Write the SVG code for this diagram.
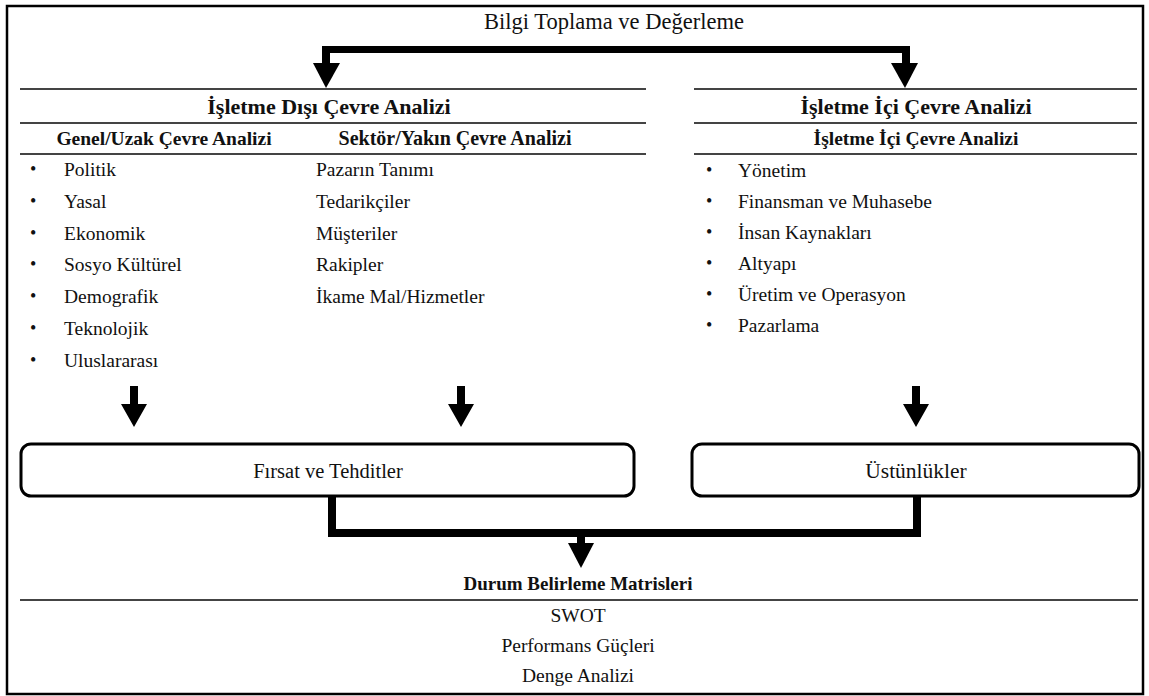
<svg xmlns="http://www.w3.org/2000/svg" width="1149" height="696" viewBox="0 0 1149 696">
<style>
text{font-family:"Liberation Serif","Times New Roman",serif;fill:#111}
.t{font-size:22.5px}
.h{font-size:22px;font-weight:bold;text-anchor:middle}
.s{font-size:19.5px;font-weight:bold;text-anchor:middle}
.i{font-size:19.5px}
.b{font-size:18px}
.c{text-anchor:middle}
.ln{stroke:#444;stroke-width:2}
.box{fill:#fff;stroke:#000;stroke-width:3}
.ar{fill:#000}
</style>
<rect x="7" y="6" width="1136" height="688" fill="#fff" stroke="#000" stroke-width="2.5"/>
<g id="title"><text class="t c" x="614" y="29">Bilgi Toplama ve Değerleme</text></g>
<g id="connectors">
<rect class="ar" x="322" y="46" width="588" height="7"/>
<rect class="ar" x="322" y="46" width="8" height="18"/>
<polygon class="ar" points="313,63 340,63 326,88"/>
<rect class="ar" x="902" y="46" width="8" height="18"/>
<polygon class="ar" points="891,63 918,63 905,88"/>
<polygon class="ar" points="130,386 138,386 138,404 147,404 134,427 121,404 130,404"/>
<polygon class="ar" points="457,386 465,386 465,404 474,404 461,427 448,404 457,404"/>
<polygon class="ar" points="912,386 920,386 920,404 929,404 916,427 903,404 912,404"/>
<rect class="ar" x="328" y="496" width="8" height="41"/>
<rect class="ar" x="913" y="496" width="8" height="41"/>
<rect class="ar" x="328" y="529" width="593" height="8"/>
<rect class="ar" x="577" y="536" width="8" height="8"/>
<polygon class="ar" points="568,543 594,543 581,568"/>
</g>
<g id="dis">
<line class="ln" x1="20" y1="89" x2="646" y2="89"/>
<text class="h" x="329" y="114">İşletme Dışı Çevre Analizi</text>
<line class="ln" x1="20" y1="123" x2="646" y2="123"/>
<text class="s" x="164" y="145">Genel/Uzak Çevre Analizi</text>
<text class="s" x="455" y="145" style="font-size:20px">Sektör/Yakın Çevre Analizi</text>
<line class="ln" x1="20" y1="154" x2="646" y2="154"/>
</g>
<g id="genel">
<text class="b" x="30" y="175">•</text><text class="i" x="64" y="176">Politik</text>
<text class="b" x="30" y="206.8">•</text><text class="i" x="64" y="207.8">Yasal</text>
<text class="b" x="30" y="238.6">•</text><text class="i" x="64" y="239.6">Ekonomik</text>
<text class="b" x="30" y="270.4">•</text><text class="i" x="64" y="271.4">Sosyo Kültürel</text>
<text class="b" x="30" y="302.2">•</text><text class="i" x="64" y="303.2">Demografik</text>
<text class="b" x="30" y="334">•</text><text class="i" x="64" y="335">Teknolojik</text>
<text class="b" x="30" y="365.8">•</text><text class="i" x="64" y="366.8">Uluslararası</text>
</g>
<g id="sektor">
<text class="i" x="316" y="176">Pazarın Tanımı</text>
<text class="i" x="316" y="207.8">Tedarikçiler</text>
<text class="i" x="316" y="239.6">Müşteriler</text>
<text class="i" x="316" y="271.4">Rakipler</text>
<text class="i" x="316" y="303.2">İkame Mal/Hizmetler</text>
</g>
<g id="ici">
<line class="ln" x1="694" y1="89" x2="1137" y2="89"/>
<text class="h" x="916" y="114">İşletme İçi Çevre Analizi</text>
<line class="ln" x1="694" y1="123" x2="1137" y2="123"/>
<text class="s" x="916" y="145">İşletme İçi Çevre Analizi</text>
<line class="ln" x1="694" y1="154" x2="1137" y2="154"/>
<text class="b" x="706" y="176">•</text><text class="i" x="738" y="177">Yönetim</text>
<text class="b" x="706" y="207">•</text><text class="i" x="738" y="208">Finansman ve Muhasebe</text>
<text class="b" x="706" y="238">•</text><text class="i" x="738" y="239">İnsan Kaynakları</text>
<text class="b" x="706" y="269">•</text><text class="i" x="738" y="270">Altyapı</text>
<text class="b" x="706" y="300">•</text><text class="i" x="738" y="301">Üretim ve Operasyon</text>
<text class="b" x="706" y="331">•</text><text class="i" x="738" y="332">Pazarlama</text>
</g>
<g id="firsat">
<rect class="box" x="21" y="444" width="613" height="52" rx="10"/>
<text class="t c" x="328" y="478" style="font-size:20.5px">Fırsat ve Tehditler</text>
</g>
<g id="ustunluk">
<rect class="box" x="692" y="444" width="447" height="52" rx="10"/>
<text class="t c" x="916" y="478" style="font-size:21.5px">Üstünlükler</text>
</g>
<g id="durum">
<text class="s" x="578" y="590" style="font-size:19px">Durum Belirleme Matrisleri</text>
<line class="ln" x1="20" y1="600" x2="1138" y2="600"/>
<text class="i c" x="578" y="622">SWOT</text>
<text class="i c" x="578" y="652">Performans Güçleri</text>
<text class="i c" x="578" y="682">Denge Analizi</text>
</g>
</svg>
